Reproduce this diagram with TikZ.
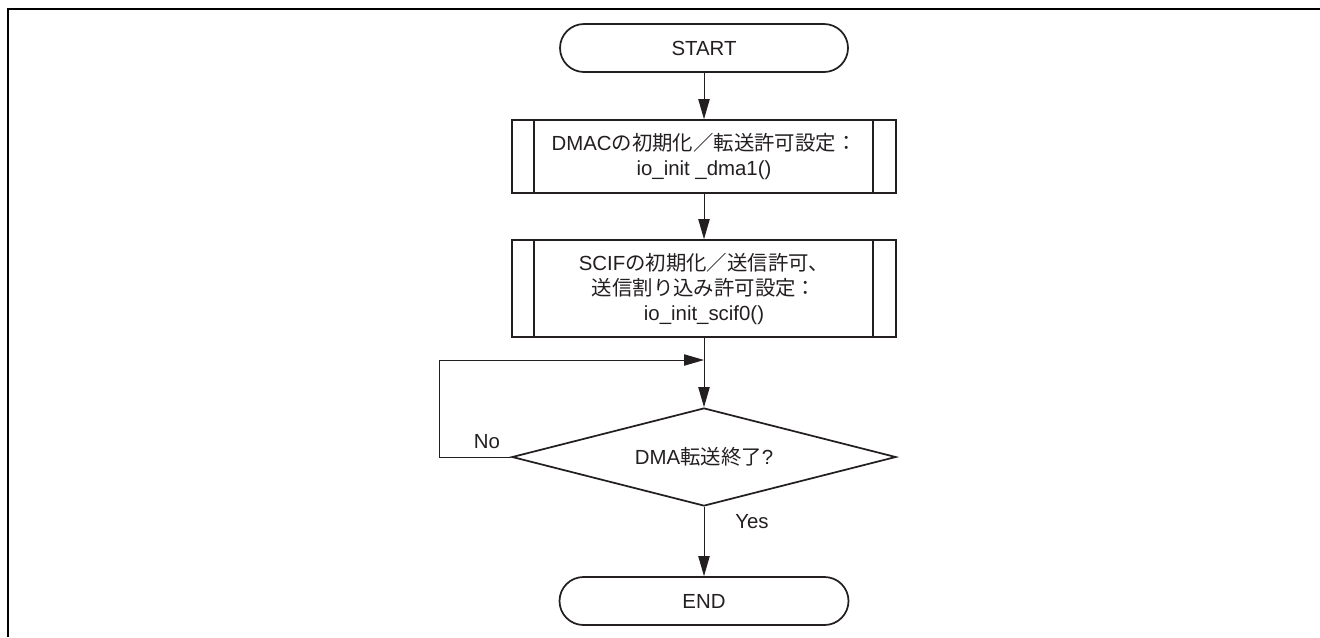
\documentclass[tikz,border=0pt]{standalone}
\usepackage{fontspec}
\setmainfont{Liberation Sans}
\newfontfamily\jp{Noto Sans CJK JP}
\usetikzlibrary{shapes.misc,shapes.geometric,arrows.meta}
\definecolor{ink}{RGB}{35,31,32}
\begin{document}
\begin{tikzpicture}[x=0.75pt,y=-0.75pt,
  every node/.style={font=\fontsize{15.3}{18.75}\selectfont, text=ink},
  term/.style={draw=ink, line width=1.3pt, rounded rectangle, minimum width=216pt, minimum height=36pt, inner sep=0pt},
  proc/.style={draw=ink, line width=1.3pt, rectangle, minimum width=288pt, align=center, inner sep=0pt},
  dec/.style={draw=ink, line width=1.3pt, diamond, shape aspect=3.9, minimum width=288pt, minimum height=73.5pt, inner sep=0pt},
  bar/.style={draw=ink, line width=1.3pt},
  conn/.style={draw=ink, line width=0.75pt, -{Triangle[length=15pt,width=8.5pt]}},
  lbl/.style={inner sep=0pt},
  frame/.style={draw=black, line width=1.5pt}]
\useasboundingbox (0,0) rectangle (1320,637);
\draw[frame] (7.7,637) -- (7.7,9.3) -- (1320,9.3);

\node[term] (s) at (704,48) {START};
\node[proc, minimum height=54.75pt] (b1) at (704,156.5)
  {DMAC{\jp の初期化／転送許可設定：}\\io\_init \_dma1()};
\node[proc, minimum height=72.75pt] (b2) at (704,288.5)
  {SCIF{\jp の初期化／送信許可、}\\{\jp 送信割り込み許可設定：}\\io\_init\_scif0()};
\node[dec] (d) at (704,457) {DMA{\jp 転送終了}?};
\node[term, minimum width=216.75pt] (e) at (704,601) {END};

\foreach \b in {b1,b2}{
  \draw[bar] ([xshift=17.25pt]\b.north west) -- ([xshift=17.25pt]\b.south west);
  \draw[bar] ([xshift=-18pt]\b.north east) -- ([xshift=-18pt]\b.south east);
}

\coordinate (j) at (704,360);
\draw[conn] (s.south) -- (b1.north);
\draw[conn] (b1.south) -- (b2.north);
\draw[conn] (b2.south) -- (d.north);
\draw[conn] (d.west) -- ++(-72,0) |- (j);
\draw[conn] (d.south) -- (e.north);

\node[lbl] (no) at (487,442) {No};
\node[lbl] (yes) at (752,522) {Yes};
\end{tikzpicture}
\end{document}
